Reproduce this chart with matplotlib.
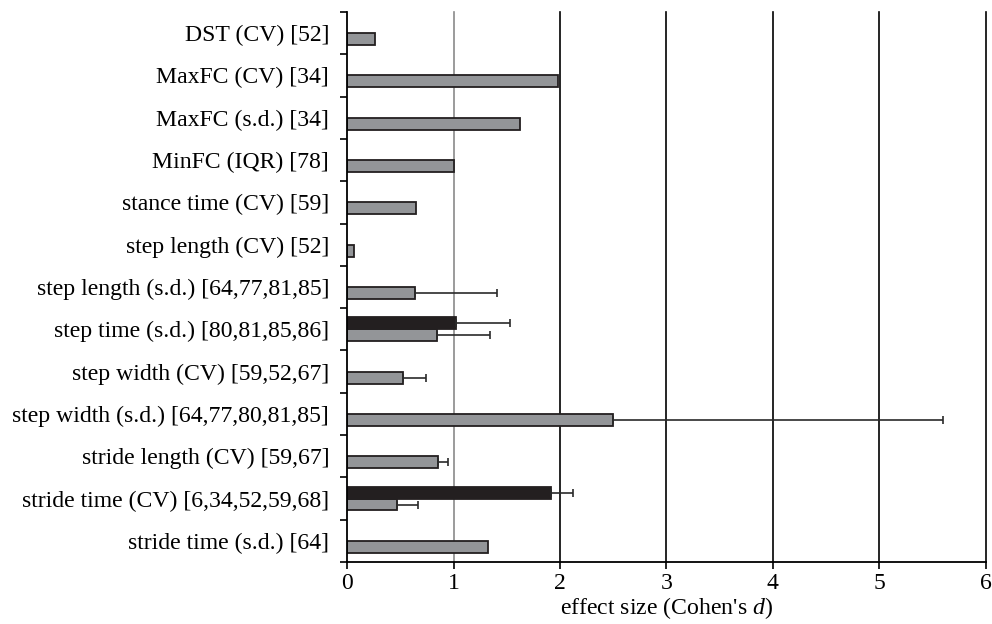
import matplotlib.pyplot as plt
import numpy as np

plt.rcParams['font.family'] = ['Liberation Serif', 'DejaVu Serif']
plt.rcParams['mathtext.fontset'] = 'custom'
plt.rcParams['mathtext.rm'] = 'Liberation Serif'
plt.rcParams['mathtext.it'] = 'Liberation Serif:italic'

categories = ["DST (CV) [52]", "MaxFC (CV) [34]", "MaxFC (s.d.) [34]", "MinFC (IQR) [78]",
              "stance time (CV) [59]", "step length (CV) [52]", "step length (s.d.) [64,77,81,85]",
              "step time (s.d.) [80,81,85,86]", "step width (CV) [59,52,67]",
              "step width (s.d.) [64,77,80,81,85]", "stride length (CV) [59,67]",
              "stride time (CV) [6,34,52,59,68]", "stride time (s.d.) [64]"]

# grey series (every category)
grey_vals = [0.26, 1.98, 1.62, 1.005, 0.645, 0.06, 0.64, 0.84, 0.52, 2.50, 0.85, 0.47, 1.32]
grey_err = [0, 0, 0, 0, 0, 0, 0.765, 0.505, 0.225, 3.10, 0.095, 0.20, 0]

# black series (only two categories)
black_vals = [np.nan] * 13
black_err = [0] * 13
black_vals[7], black_err[7] = 1.02, 0.51
black_vals[11], black_err[11] = 1.92, 0.20

grey_col = "#939598"
dark_col = "#231f20"
fs = 17.1

fig = plt.figure(figsize=(9.92, 6.24), dpi=100)
ax = fig.add_axes([0.350, 0.0994, 0.6435, 0.8814])

y = np.arange(len(categories))
h = 0.283
off = 0.1415

# gridlines
for gx in range(1, 7):
    ax.axvline(gx, color="#8a8a8a" if gx == 1 else "black", lw=1.2, zorder=0, clip_on=False)

err_kw = dict(ecolor="#2a2a2a", elinewidth=1.2, capsize=3.2, capthick=1.2)

gv = np.array(grey_vals)
ge = np.array(grey_err)
ax.barh(y + off, gv, height=h, color=grey_col, edgecolor=dark_col, linewidth=1.3, zorder=2)
mask = ge > 0
ax.errorbar(gv[mask], (y + off)[mask], xerr=[np.zeros(mask.sum()), ge[mask]], fmt="none", zorder=3, **err_kw)

bv = np.array(black_vals)
be = np.array(black_err)
bm = ~np.isnan(bv)
ax.barh(y[bm] - off, bv[bm], height=h, color=dark_col, edgecolor=dark_col, linewidth=1.3, zorder=2)
ax.errorbar(bv[bm], (y - off)[bm], xerr=[np.zeros(bm.sum()), be[bm]], fmt="none", zorder=3, **err_kw)

ax.set_xlim(0, 6)
ax.set_ylim(len(categories) - 0.5, -0.5)
ax.set_xticks(range(7))
ax.tick_params(axis="x", labelsize=fs, direction="out", length=5, width=1.2, pad=3)

# category boundaries as ticks, labels at centres
ax.set_yticks(np.arange(-0.5, len(categories), 1.0))
ax.set_yticklabels([])
ax.set_yticks(y, minor=True)
ax.set_yticklabels(categories, minor=True)
ax.tick_params(axis="y", which="major", direction="out", length=5, width=1.2)
ax.tick_params(axis="y", which="minor", length=0, labelsize=fs, pad=13)

for s in ["top", "right"]:
    ax.spines[s].set_visible(False)
for s in ["left", "bottom"]:
    ax.spines[s].set_linewidth(1.3)

ax.set_xlabel("effect size (Cohen's $d$)", fontsize=fs, labelpad=1)

fig.savefig("out.png", dpi=100)
